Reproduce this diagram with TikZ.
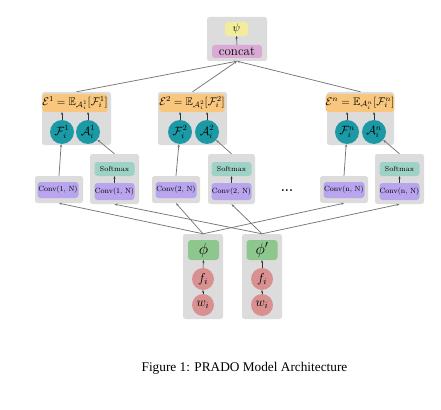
\RequirePackage{fix-cm}
\documentclass[tikz,border=0pt]{standalone}
\usepackage{amssymb}
\usepackage{fontspec}
\newfontfamily\capfont{Liberation Serif}
\usetikzlibrary{arrows.meta}
\definecolor{grpgray}{HTML}{DCDCDC}
\definecolor{eorange}{HTML}{F8C67C}
\definecolor{cteal}{HTML}{1B9AA6}
\definecolor{cpurple}{HTML}{B9A4EE}
\definecolor{smteal}{HTML}{9FD2C6}
\definecolor{phigreen}{HTML}{8DC78D}
\definecolor{wred}{HTML}{D99090}
\definecolor{psiyellow}{HTML}{F3EC9C}
\definecolor{catpink}{HTML}{DAA9D5}
\definecolor{linegray}{HTML}{777777}
\tikzset{
  grp/.style={fill=grpgray, rounded corners=2.5pt, inner sep=0pt},
  rbox/.style={rounded corners=3pt, inner sep=0pt, align=center},
  convbox/.style={rbox, fill=cpurple, minimum width=41pt, minimum height=16pt, font=\fontsize{7.5}{9}\selectfont},
  smbox/.style={rbox, fill=smteal, minimum width=40pt, minimum height=14pt, font=\fontsize{7.2}{9}\selectfont},
  ebox/.style={rbox, fill=eorange, minimum width=63pt, minimum height=18pt, font=\fontsize{11}{13}\selectfont},
  fcirc/.style={circle, fill=cteal, minimum size=24pt, inner sep=0pt, font=\fontsize{12}{14}\selectfont},
  wcirc/.style={circle, fill=wred, minimum size=22pt, inner sep=0pt, font=\fontsize{13}{15}\selectfont},
  phibox/.style={rbox, fill=phigreen, minimum width=31pt, minimum height=20pt, font=\fontsize{16}{18}\selectfont},
  conn/.style={draw=linegray, line width=0.75pt, -{Stealth[length=3pt,width=2.4pt]}},
  inarr/.style={draw=black!80, line width=0.5pt, -{Stealth[length=2.5pt,width=2.2pt]}}
}
\begin{document}
\begin{tikzpicture}[x=1pt,y=-1pt]
\useasboundingbox (0,0) rectangle (441,409);
\fill[white] (0,0) rectangle (441,409);

% group boxes
\node[grp, minimum width=60pt, minimum height=44pt] (gc) at (237,39) {};
\node[grp, minimum width=69pt, minimum height=53pt] (g1) at (76.5,118.5) {};
\node[grp, minimum width=69pt, minimum height=53pt] (g2) at (192.5,118.5) {};
\node[grp, minimum width=67pt, minimum height=53pt] (gn) at (360.5,118.5) {};
\node[grp, minimum width=48pt, minimum height=27pt] (b1) at (59,189.5) {};
\node[grp, minimum width=49pt, minimum height=50pt] (b2) at (114.5,179) {};
\node[grp, minimum width=48pt, minimum height=27pt] (b3) at (176,189.5) {};
\node[grp, minimum width=47pt, minimum height=50pt] (b4) at (231.5,179) {};
\node[grp, minimum width=48pt, minimum height=27pt] (b5) at (344,189.5) {};
\node[grp, minimum width=49pt, minimum height=50pt] (b6) at (399.5,179) {};
\node[grp, minimum width=40pt, minimum height=85pt] (bl) at (203,276.5) {};
\node[grp, minimum width=40pt, minimum height=85pt] (br) at (262,276.5) {};

% top
\node[rbox, fill=psiyellow, minimum width=23pt, minimum height=14pt, font=\fontsize{11}{13}\selectfont] (psi) at (236.5,29) {$\psi$};
\node[rbox, fill=catpink, minimum width=50pt, minimum height=13pt, font=\fontsize{13}{15}\selectfont] (cat) at (237,51.5) {concat};
\draw[inarr] (cat.north) -- (psi.south);

% E groups
\node[ebox] (e1) at (75,103) {$\mathcal{E}^1 = \mathbb{E}_{\mathcal{A}_i^1}[\mathcal{F}_i^1]$};
\node[fcirc] (F1) at (62,132) {$\mathcal{F}_i^1$};
\node[fcirc] (A1) at (88,132) {$\mathcal{A}_i^1$};
\node[ebox] (e2) at (192,103) {$\mathcal{E}^2 = \mathbb{E}_{\mathcal{A}_i^2}[\mathcal{F}_i^2]$};
\node[fcirc] (F2) at (180,132) {$\mathcal{F}_i^2$};
\node[fcirc] (A2) at (207,132) {$\mathcal{A}_i^2$};
\node[ebox] (en) at (360,103) {$\mathcal{E}^n = \mathbb{E}_{\mathcal{A}_i^n}[\mathcal{F}_i^n]$};
\node[fcirc] (Fn) at (347,132) {$\mathcal{F}_i^n$};
\node[fcirc] (An) at (374,132) {$\mathcal{A}_i^n$};
\foreach \c/\e in {F1/e1,A1/e1,F2/e2,A2/e2,Fn/en,An/en}
  \draw[inarr] (\c.north) -- (\c.north |- \e.south);

% conv layer
\node[convbox] (cv1) at (58,190) {Conv(1, N)};
\node[smbox] (sm2) at (114.5,169) {Softmax};
\node[convbox, minimum width=40pt, minimum height=17pt] (cv2) at (114.5,191.5) {Conv(1, N)};
\node[convbox] (cv3) at (176,190) {Conv(2, N)};
\node[smbox] (sm4) at (231.5,169) {Softmax};
\node[convbox, minimum width=40pt, minimum height=17pt] (cv4) at (231.5,191.5) {Conv(2, N)};
\node[font=\bfseries\fontsize{13}{15}\selectfont, anchor=base, inner sep=0pt] (dots) at (287,191) {...};
\node[convbox] (cv5) at (344,190) {Conv(n, N)};
\node[smbox] (sm6) at (399.5,169) {Softmax};
\node[convbox, minimum width=40pt, minimum height=17pt] (cv6) at (399.5,191.5) {Conv(n, N)};
\foreach \a/\b in {cv2/sm2,cv4/sm4,cv6/sm6}
  \draw[inarr] (\a.north) -- (\b.south);

% bottom
\node[phibox] (phi) at (203.5,250) {$\phi$};
\node[wcirc] (f1) at (203,279) {$f_i$};
\node[wcirc] (w1) at (203,305) {$w_i$};
\node[phibox] (phip) at (262,250) {$\phi'$};
\node[wcirc] (f2) at (262,279) {$f_i$};
\node[wcirc] (w2) at (262,305) {$w_i$};
\foreach \a/\b in {w1/f1,f1/phi,w2/f2,f2/phip}
  \draw[inarr] (\a.north) -- (\b.south);

% connectors
\foreach \g in {g1,g2,gn}
  \draw[conn] (\g.north) -- (gc.south);
\draw[conn] (b1.north) -- (F1);
\draw[conn] (b2.north) -- (A1);
\draw[conn] (b3.north) -- (F2);
\draw[conn] (b4.north) -- (A2);
\draw[conn] (b5.north) -- (Fn);
\draw[conn] (b6.north) -- (An);
\foreach \b in {b1,b3,b5}
  \draw[conn] (bl.north) -- (\b.south);
\foreach \b in {b2,b4,b6}
  \draw[conn] (br.north) -- (\b.south);

% caption
\node[font=\capfont\fontsize{13.3}{16}\selectfont] (cap) at (244.5,368) {Figure 1: PRADO Model Architecture};
\end{tikzpicture}
\end{document}
